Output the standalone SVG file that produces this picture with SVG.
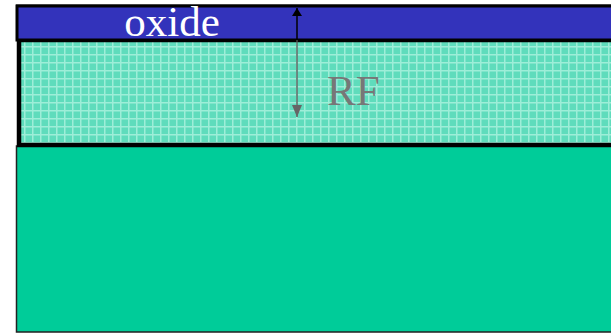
<svg xmlns="http://www.w3.org/2000/svg" width="611" height="334" viewBox="0 0 611 334">
<style>
.lbl{font-family:"Liberation Serif","Times New Roman",serif;font-size:43px}
</style>
<defs>
<pattern id="grid" x="21" y="43" width="8" height="8" patternUnits="userSpaceOnUse">
<rect width="8" height="8" fill="#5fdcbc"/>
<rect x="3" y="0" width="1.5" height="8" fill="#9eeed8"/>
<rect x="0" y="3" width="8" height="1.5" fill="#9eeed8"/>
</pattern>
<marker id="up" viewBox="0 0 10 10" refX="5" refY="0" markerWidth="10" markerHeight="10" markerUnits="userSpaceOnUse" orient="0">
<path d="M5,0 L10,8 L0,8 Z" fill="#000"/>
</marker>
<marker id="down" viewBox="0 0 10 12" refX="5" refY="12" markerWidth="10" markerHeight="12" markerUnits="userSpaceOnUse" orient="0">
<path d="M0,0 L10,0 L5,12 Z" fill="#666"/>
</marker>
</defs>
<rect width="611" height="334" fill="#fff"/>
<g id="substrate">
<rect x="16.5" y="146" width="600" height="186" fill="#00cc99" stroke="#222" stroke-width="1.5"/>
</g>
<g id="rf-layer">
<rect x="19" y="40" width="600" height="105" fill="url(#grid)" stroke="#000" stroke-width="4.5"/>
<text class="lbl" x="327" y="105" fill="#777">RF</text>
</g>
<g id="oxide">
<line x1="16" y1="4.5" x2="611" y2="4.5" stroke="#888" stroke-width="1"/>
<rect x="17" y="6" width="600" height="34" fill="#3333bb" stroke="#000" stroke-width="3"/>
<text class="lbl" x="172" y="36" fill="#fff" text-anchor="middle">oxide</text>
</g>
<g id="connectors">
<line x1="297" y1="40" x2="297" y2="8" stroke="#000" stroke-width="1.5" marker-end="url(#up)"/>
<line x1="297" y1="40" x2="297" y2="117" stroke="#555" stroke-width="1.3" marker-end="url(#down)"/>
</g>
</svg>
